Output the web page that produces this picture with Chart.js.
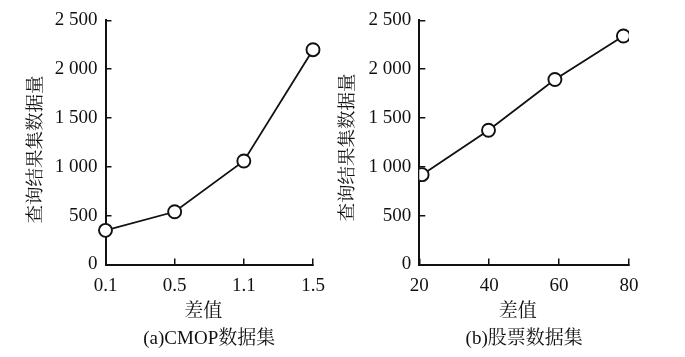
<!DOCTYPE html>
<html><head><meta charset="utf-8">
<script src="https://cdn.jsdelivr.net/npm/chart.js@4"></script>
<style>
html,body{margin:0;padding:0;background:#fff;overflow:hidden;width:685px;height:357px;position:relative}
#c1{position:absolute;left:0;top:-5px}
#c2{position:absolute;left:330px;top:-5px}
</style></head><body>
<canvas id="c1" width="342" height="362"></canvas>
<canvas id="c2" width="355" height="362"></canvas>
<script>
// ---- data ----
const cmopDiffs = ['0.1', '0.5', '1.1', '1.5'];
const cmopCounts = [350, 540, 1060, 2200];
const stockDiffs = [20.8, 39.8, 58.8, 78.4];
const stockCounts = [920, 1375, 1895, 2340];
const stockTicks = [20, 40, 60, 80];
const yMax = 2500;
const yStep = 500;
const yTitle = '查询结果集数据量';
const xTitle = '差值';
const subtitles = ['(a)CMOP数据集', '(b)股票数据集'];

Chart.defaults.font.family = '"Liberation Serif", "Noto Serif CJK SC", "Noto Sans CJK SC", serif';
Chart.defaults.font.size = 19;
Chart.defaults.color = '#111';

function fmtY(v) {
  if (v >= 1000) return Math.floor(v / 1000) + ' ' + String(v % 1000).padStart(3, '0');
  return String(v);
}

// nudges an axis title off the centre of its axis (the source figure's titles are not centred)
const titleShift = {
  id: 'titleShift',
  afterLayout(chart, args, opts) {
    ['x', 'y'].forEach(id => {
      const s = chart.scales[id];
      const d = opts[id];
      if (!s || !d || s.__shifted) return;
      const orig = s.drawTitle.bind(s);
      s.drawTitle = function () {
        const ctx = this.ctx;
        ctx.save();
        ctx.translate(d.dx || 0, d.dy || 0);
        orig();
        ctx.restore();
      };
      s.__shifted = true;
    });
  }
};

const axisGrid = { drawOnChartArea: false, drawTicks: true, tickLength: -6, color: '#111', lineWidth: 1.5 };
const axisBorder = { display: true, color: '#111', width: 2 };

function makeChart(canvas, xScale, data, yWidth, yTitlePad, padRight, subtitle, shifts) {
  return new Chart(canvas, {
    type: 'line',
    data: data,
    plugins: [titleShift],
    options: {
      responsive: false,
      animation: false,
      events: [],
      layout: { padding: { left: 0, top: 20, right: padRight, bottom: 6.6 } },
      plugins: {
        legend: { display: false },
        tooltip: { enabled: false },
        titleShift: shifts,
        title: {
          display: true, text: subtitle, position: 'bottom', fullSize: false,
          padding: 0, color: '#111', font: { size: 19, weight: 'normal', lineHeight: 1.2 }
        }
      },
      scales: {
        x: Object.assign({
          position: 'bottom',
          grid: axisGrid, border: axisBorder,
          title: { display: true, text: xTitle, color: '#111', font: { size: 19, lineHeight: 1.2 }, padding: { top: 0, bottom: 4.2 } },
          afterFit: s => { s.height = 63.1; }
        }, xScale),
        y: {
          min: 0, max: yMax,
          grid: axisGrid, border: axisBorder,
          ticks: { stepSize: yStep, padding: 14, color: '#111', callback: v => fmtY(v) },
          title: { display: true, text: yTitle, color: '#111', font: { size: 18.5, lineHeight: 1.2 }, padding: { top: yTitlePad, bottom: 0 } },
          afterFit: s => { s.width = yWidth; }
        }
      },
      elements: {
        line: { borderColor: '#111', borderWidth: 1.8, tension: 0, fill: false },
        point: { radius: 6.5, borderWidth: 1.9, borderColor: '#111', backgroundColor: '#fff', pointStyle: 'circle' }
      }
    }
  });
}

makeChart(document.getElementById('c1'),
  { type: 'category', offset: false, ticks: { padding: 16, color: '#111', maxRotation: 0, autoSkip: false } },
  { labels: cmopDiffs, datasets: [{ data: cmopCounts }] },
  105.5, 24.9, 29, subtitles[0], { x: { dx: -6 }, y: { dy: 7 } });

makeChart(document.getElementById('c2'),
  { type: 'linear', min: stockTicks[0], max: stockTicks[stockTicks.length - 1], offset: false,
    afterBuildTicks: s => { s.ticks = stockTicks.map(v => ({ value: v })); },
    ticks: { padding: 16, color: '#111', maxRotation: 0, autoSkip: false } },
  { datasets: [{ data: stockDiffs.map((x, i) => ({ x: x, y: stockCounts[i] })) }] },
  89.3, 6.9, 56, subtitles[1], { x: { dx: -6.5 }, y: { dy: 5 } });
</script>
</body></html>
